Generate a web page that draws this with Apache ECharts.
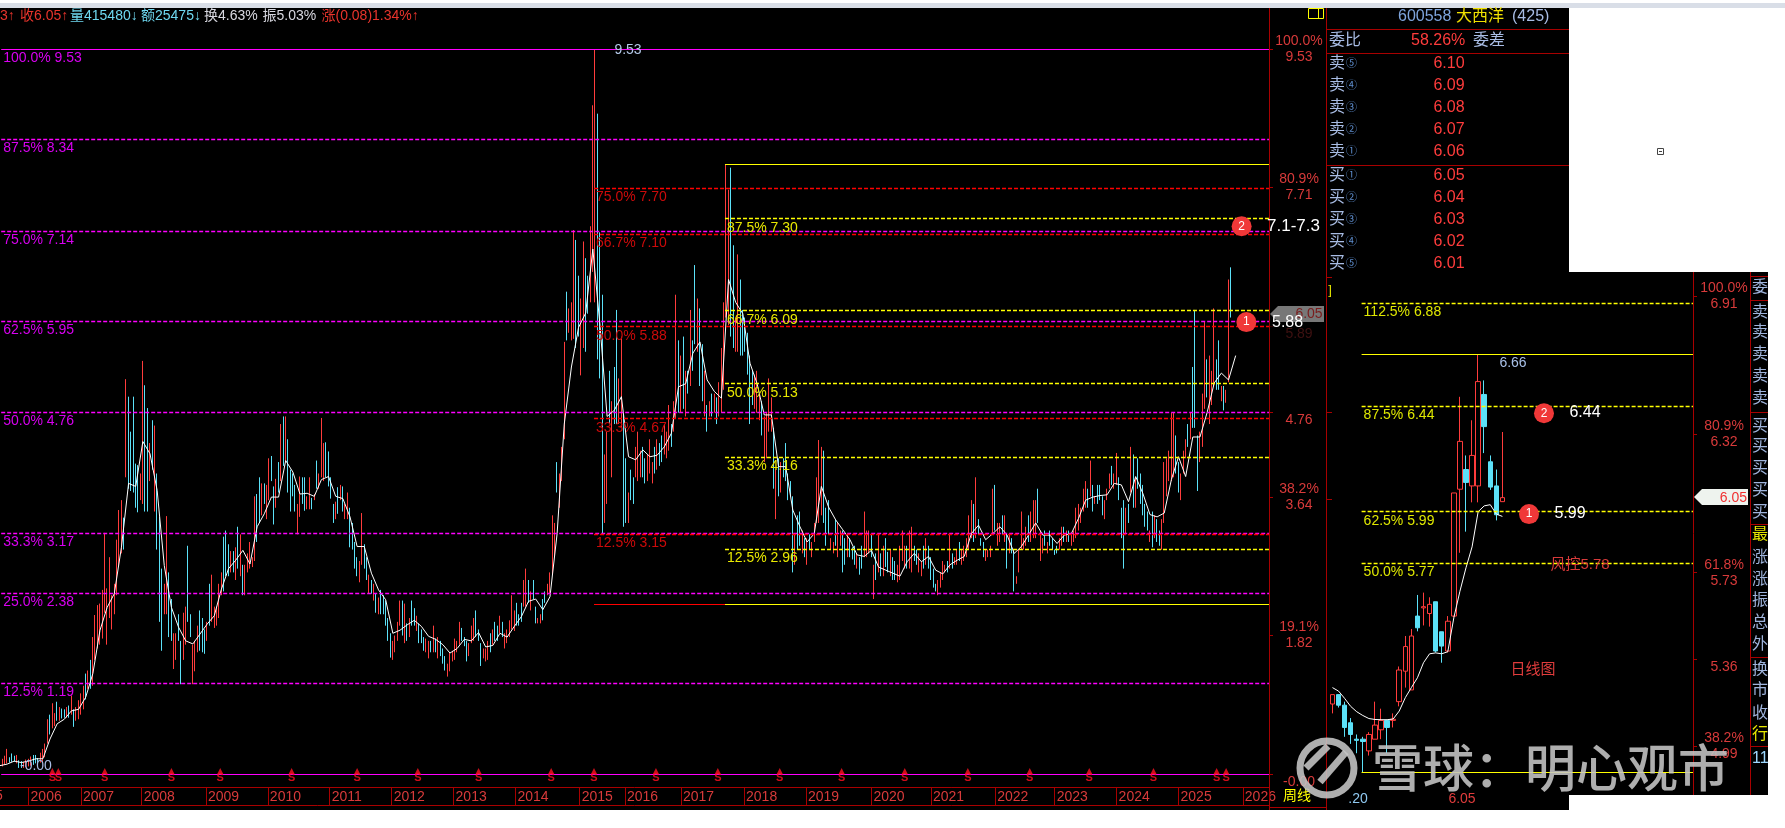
<!DOCTYPE html>
<html><head><meta charset="utf-8">
<script src="https://cdn.jsdelivr.net/npm/echarts@6/dist/echarts.min.js"></script>
<style>html,body{margin:0;padding:0;background:#fff}#c{width:1785px;height:828px}</style></head>
<body><div id="c"></div>
<script>
// ---------- weekly candles: one sampled bar every 2 weeks ----------
const weekHigh=[.12,.20,.24,.33,.22,.27,.24,.25,.18,.17,
.16,.19,.20,.23,.25,.25,.21,.28,.33,.40,
.72,.78,.93,.80,.95,.88,.86,.85,.88,.90,
1.03,.85,.88,.97,1.06,1.16,1.32,1.36,1.50,1.80,
2.09,2.22,2.24,2.42,3.17,2.44,2.85,2.35,2.50,3.08,
3.47,3.60,3.37,5.19,4.96,4.50,4.96,4.08,4.06,3.95,
5.43,5.11,4.81,4.35,4.65,4.58,3.95,3.38,2.70,2.50,
3.39,2.65,2.30,1.85,1.85,2.10,1.75,2.12,2.20,3.00,
2.10,1.70,1.75,1.95,2.15,2.05,1.90,2.00,2.50,2.62,
2.20,2.20,2.50,2.65,3.12,3.20,3.02,2.93,2.93,2.98,
3.25,3.15,2.75,2.75,2.90,3.05,2.85,3.65,3.68,3.90,
3.82,3.82,3.80,4.15,4.18,3.78,3.88,4.10,4.60,4.70,
4.70,4.40,4.00,3.95,3.80,3.55,3.91,3.90,3.90,3.65,
3.90,3.63,3.68,4.12,3.95,4.68,4.35,4.36,4.24,3.90,
3.55,3.58,3.77,3.80,3.78,3.55,3.70,3.50,3.30,3.05,
2.85,2.80,3.43,3.02,2.85,2.62,2.55,2.50,2.38,2.32,
2.42,2.35,2.28,2.05,1.85,1.75,1.82,2.00,2.28,2.28,
2.24,1.98,2.05,2.28,2.18,2.08,1.98,1.90,1.80,1.78,
1.75,1.75,1.95,1.78,1.80,1.75,1.65,1.55,1.45,1.60,
1.62,1.78,1.75,2.00,1.92,1.80,1.75,1.72,1.95,2.05,
2.15,1.90,1.72,1.65,1.65,1.75,1.85,1.90,2.00,1.95,
2.08,2.00,1.85,1.90,2.02,2.35,2.15,2.25,2.10,2.25,
2.55,2.70,2.55,2.40,2.55,2.20,2.05,2.10,2.30,2.40,
2.50,2.65,3.40,3.30,4.10,3.95,4.30,5.68,6.34,6.12,
6.20,7.15,7.02,6.55,6.25,7.00,6.78,6.55,7.20,8.79,
9.53,8.68,7.12,6.30,4.20,4.50,5.30,4.90,5.35,6.10,
5.20,5.75,4.73,4.15,3.70,4.00,3.90,4.30,4.50,4.25,
4.30,4.15,4.20,4.40,4.10,4.30,4.40,4.35,4.45,4.60,
4.50,4.85,4.60,4.90,6.30,5.70,5.50,5.75,5.30,5.30,
6.10,5.70,6.69,6.25,6.12,5.65,5.30,4.85,4.90,5.00,
5.00,4.95,5.15,5.60,6.20,8.01,7.68,7.97,6.95,6.00,
6.83,6.50,6.10,6.00,5.80,5.50,5.30,5.25,5.30,5.00,
4.90,4.70,4.75,5.20,4.95,4.55,4.00,4.15,4.10,4.15,
4.35,3.95,3.85,3.65,3.15,3.40,3.45,3.20,3.10,3.10,
3.15,3.05,3.30,3.90,4.39,4.30,4.25,3.50,3.60,3.10,
3.05,3.35,3.30,3.20,3.20,3.10,3.15,3.10,2.98,3.00,
2.90,2.85,3.00,3.45,3.20,3.20,3.15,2.75,2.90,3.15,
2.90,3.00,3.10,2.92,2.95,2.85,2.80,2.75,3.00,3.20,
3.00,3.00,3.20,3.25,3.00,2.95,2.90,2.80,3.00,3.10,
3.00,2.85,2.70,2.50,2.55,2.65,2.80,2.75,2.80,3.15,
2.90,2.85,2.95,3.05,2.95,3.00,3.10,3.40,3.60,3.55,
3.90,3.35,3.10,3.05,2.95,2.95,3.00,3.75,3.80,3.30,
3.30,3.40,3.40,3.15,3.15,3.10,2.95,2.60,2.95,3.45,
3.10,3.25,3.40,3.45,3.60,3.60,3.75,3.20,3.10,3.20,
3.05,3.20,3.10,2.95,3.00,3.10,3.25,3.25,3.20,3.20,
3.15,3.20,3.50,3.55,3.50,3.75,3.85,3.75,4.12,3.80,
3.65,3.80,3.80,3.65,3.60,3.75,3.95,4.05,3.95,4.22,
3.90,3.50,3.60,3.50,3.55,4.30,4.20,3.90,4.15,3.95,
3.80,3.55,3.45,3.20,3.45,3.40,3.35,3.20,3.35,4.10,
4.15,4.25,4.75,4.75,4.45,4.10,3.95,4.25,4.40,4.60,
4.75,5.35,6.10,4.45,4.50,5.00,5.95,5.45,5.50,5.30,
6.12,5.45,5.70,5.10,5.10,5.05,6.50,6.66];
const weekLow=[0,.10,.12,.14,.15,.16,.16,.14,.08,.08,
.08,.09,.10,.11,.12,.14,.13,.15,.16,.22,
.40,.52,.60,.63,.70,.70,.73,.74,.74,.74,
.78,.62,.70,.72,.78,.85,.98,1.12,1.12,1.16,
1.50,1.65,1.70,1.78,2.12,1.70,2.05,1.90,2.10,2.35,
2.72,2.90,2.95,3.90,3.75,3.72,3.70,3.50,3.44,3.60,
3.55,3.45,3.45,3.85,4.00,3.45,2.95,2.00,1.62,2.10,
2.10,1.80,1.75,1.38,1.50,1.75,1.18,1.50,1.70,2.00,
1.80,1.18,1.35,1.60,1.62,1.60,1.58,1.75,1.95,2.00,
1.92,1.95,2.05,2.35,2.40,2.60,2.60,2.65,2.65,2.55,
2.70,2.60,2.35,2.35,2.65,2.70,2.72,2.80,3.05,3.30,
3.40,3.55,3.35,3.60,3.85,3.28,3.50,3.70,3.85,4.05,
4.10,3.70,3.45,3.65,3.45,3.15,3.38,3.55,3.46,3.48,
3.48,3.48,3.60,3.75,3.75,3.90,3.85,3.90,3.78,3.62,
3.30,3.35,3.42,3.60,3.45,3.35,3.35,2.98,2.95,2.70,
2.60,2.52,2.75,2.70,2.55,2.37,2.37,2.28,2.12,2.10,
2.10,2.10,1.95,1.75,1.53,1.50,1.60,1.75,1.95,1.82,
1.72,1.75,1.80,1.95,1.95,1.88,1.72,1.72,1.62,1.60,
1.52,1.60,1.60,1.60,1.52,1.55,1.45,1.36,1.28,1.35,
1.48,1.50,1.60,1.70,1.75,1.68,1.48,1.55,1.72,1.75,
1.80,1.75,1.42,1.52,1.48,1.50,1.60,1.70,1.75,1.75,
1.85,1.80,1.65,1.72,1.80,1.90,1.88,1.95,1.95,2.00,
2.20,2.20,2.25,2.15,2.30,1.98,1.98,1.98,2.02,2.25,
2.35,2.38,2.62,2.85,3.70,3.50,3.85,4.40,5.70,5.80,
5.70,5.72,5.60,5.75,5.24,5.60,5.55,6.05,6.20,6.60,
6.20,5.45,5.20,3.15,3.30,3.55,4.60,3.90,4.60,4.60,
4.60,4.55,3.25,3.30,3.30,3.60,3.55,3.90,3.85,3.90,
3.90,3.82,3.85,3.95,3.82,3.95,4.00,4.05,4.10,4.20,
4.15,4.25,4.30,4.50,4.68,4.75,4.75,4.80,4.70,5.00,
5.10,5.30,5.65,5.55,5.10,4.90,4.70,4.50,4.70,4.70,
4.75,4.60,4.70,4.75,5.05,6.00,5.90,5.75,5.60,5.55,
5.55,5.50,5.50,5.55,5.25,4.60,4.85,4.80,4.75,4.65,
4.45,4.10,4.15,4.50,4.50,3.75,3.35,3.65,3.70,3.90,
3.85,3.60,3.65,2.65,2.75,2.95,3.00,2.90,2.85,2.75,
2.95,2.85,3.05,3.30,3.30,3.40,3.30,3.00,3.15,2.95,
2.90,3.00,2.85,3.00,2.65,2.75,2.85,2.85,2.82,2.75,
2.70,2.62,2.70,2.85,2.85,2.90,2.85,2.30,2.55,2.65,
2.60,2.60,2.72,2.65,2.60,2.55,2.55,2.52,2.55,2.80,
2.70,2.70,2.70,2.65,2.80,2.75,2.65,2.60,2.70,2.75,
2.70,2.55,2.45,2.40,2.35,2.45,2.55,2.65,2.65,2.70,
2.70,2.75,2.75,2.80,2.75,2.80,2.85,2.95,3.10,3.05,
3.10,3.15,3.00,2.85,2.80,2.85,2.85,3.15,3.20,3.00,
3.05,3.15,3.05,2.70,2.90,2.90,2.40,2.50,2.65,2.95,
2.95,3.00,3.05,3.05,3.10,3.10,3.30,2.80,2.90,3.00,
2.90,3.00,2.95,2.88,2.90,2.95,3.00,3.05,3.05,3.05,
3.00,3.05,3.10,3.20,3.30,3.45,3.50,3.50,3.65,3.45,
3.55,3.55,3.60,3.40,3.35,3.60,3.75,3.80,3.75,3.80,
3.60,3.10,2.70,3.15,3.30,3.70,3.50,3.50,3.75,3.55,
3.40,3.25,3.20,3.05,2.98,3.10,3.05,3.00,2.95,3.30,
3.65,3.85,3.85,3.90,3.95,3.70,3.60,3.95,4.15,4.30,
4.40,4.55,4.55,3.72,4.10,4.30,4.80,4.95,4.60,4.85,
5.10,5.05,5.05,4.90,4.78,4.88,5.15,6.00];
const weekDir="duuudddudd"+"uuuuddduuu"+"uduududdud"+"uduuuududu"+"uuuuuuuuuu"+"uududddddu"+"uddududddu"+"udduudduud"+"duuudddudu"+"uuuudddudu"+
"duduuuuudd"+"uduuddudud"+"udddduuddu"+"ududuuuddd"+"dududuuddd"+"duuddududu"+"ddddduuuud"+"ududdudddu"+"udududdduu"+"uuuuddduuu"+
"ddduuududd"+"uduuuuuddd"+"uududduudd"+"uuuuduuudu"+"uudduudduu"+"uddduududd"+"uuddudduuu"+"dduuududdu"+"uuduududud"+"udduddudud"+
"uduuuuuddu"+"udddddduuu"+"duuuududud"+"dddduddudu"+"duuuuudddu"+"uduudduddd"+"udduuududu"+"duddudduuu"+"uduudduudu"+"dddduuuudu"+
"duuduuuuud"+"uddduuuudu"+"udududduuu"+"uuduuuduud"+"uddddu"+"udud"+"uuuuuuudud"+"uddduuuduu"+"dddudududd"+"dddududduu"+"uuuudduuud"+"uddduuuduu"+"udduduud";
// ---------- weekly moving average, sampled every 6 weeks ----------
const weekMA=[.11,.13,.17,.15,.17,.20,.20,.46,.66,.72,.83,.85,1.01,1.32,1.89,2.19,2.37,2.98,3.82,3.78,
4.37,4.21,3.73,2.74,2.19,1.93,1.75,1.71,1.84,1.97,2.08,2.43,2.70,2.81,2.94,2.76,3.25,3.42,3.64,3.64,
4.12,3.97,3.68,3.69,3.65,3.87,3.91,3.65,3.62,3.38,2.99,2.99,2.64,2.42,2.29,1.85,1.89,1.96,2.02,1.94,
1.81,1.77,1.70,1.59,1.65,1.77,1.75,1.86,1.67,1.69,1.85,1.80,1.94,2.07,2.27,2.30,2.16,2.33,3.16,4.60,
5.35,5.87,6.06,6.90,5.90,4.70,4.78,4.96,4.17,4.13,4.26,4.17,4.19,4.30,4.48,5.09,5.13,5.53,5.68,5.18,
5.03,4.94,6.50,6.20,6.05,5.40,5.13,4.72,4.72,4.04,4.04,3.47,3.25,3.05,3.16,3.78,3.51,3.34,3.21,3.08,
2.88,2.86,2.94,2.72,2.68,2.64,2.60,2.79,2.90,2.79,2.86,2.68,2.63,2.75,2.81,2.86,3.16,3.27,3.08,3.16,
3.25,3.14,2.90,2.99,3.14,3.30,3.14,3.14,3.03,3.14,3.16,3.36,3.60,3.64,3.66,3.67,3.82,3.80,3.58,3.91,
3.69,3.41,3.38,3.43,3.87,4.17,3.91,4.43,4.43,4.75,5.14,5.27,5.18,5.50];
const yearBars=[24,68,119,173,225,277,329,381,433,487,525,572,625,677,732,782,836,886,938,990,1044];
const yearLabels=["2006","2007","2008","2009","2010","2011","2012","2013","2014","2015","2016","2017","2018","2019","2020","2021","2022","2023","2024","2025","2026"];
const dividendBars=[44,49,88,144,185,245,300,351,402,463,499,551,603,655,707,760,813,865,915,969,1022,1030];
const weekAxisVals=[9.53,7.71,5.89,4.76,3.64,1.82,0];
const weekAxisPct=["100.0%","80.9%","61.8%"," ","38.2%","19.1%"," "];
const weekAxisTxt=["9.53","7.71","5.89","4.76","3.64","1.82","-0.00"];
const magentaVals=[8.34,7.14,5.95,4.76,3.17,2.38,1.19];
const magentaPct=["87.5%","75.0%","62.5%","50.0%","33.3%","25.0%","12.5%"];
const magentaTop=9.53, magentaBase=0;
const redVals=[7.70,7.10,5.88,4.67,3.15];
const redPct=["75.0%","66.7%","50.0%","33.3%","12.5%"];
const yellowVals=[7.30,6.09,5.13,4.16,2.96];
const yellowPct=["87.5%","66.7%","50.0%","33.3%","12.5%"];
const yellowTop=8.01, fibBase=2.23;
const redStartBar=499, yellowStartBar=609, lastBar=1066;
// ---------- daily inset ----------
const dayOpen =[5.17,5.21,5.165,5.09,5.02,5.02,4.97,5.02,5.06,5.10,5.10,5.18,5.31,5.23,5.545,5.58,5.556,5.606,5.478,5.396,5.545,6.086,6.17,6.10,6.10,6.49,6.203,6.10,6.033];
const dayClose=[5.21,5.165,5.07,5.04,5.015,5.01,5.04,5.08,5.10,5.07,5.105,5.315,5.415,5.46,5.495,5.585,5.595,5.396,5.417,5.523,6.07,6.29,6.115,6.23,6.545,6.353,6.095,5.977,6.05];
const dayLow  =[5.13,5.155,5.03,5.00,4.96,4.88,4.95,5.02,5.02,4.96,5.07,5.16,5.24,5.23,5.48,5.505,5.50,5.39,5.346,5.39,5.54,5.815,5.905,6.03,6.03,6.24,6.083,5.953,6.033];
const dayHigh =[5.21,5.21,5.18,5.11,5.04,5.03,5.05,5.18,5.15,5.10,5.13,5.33,5.46,5.49,5.635,5.645,5.625,5.606,5.478,5.545,6.07,6.48,6.23,6.38,6.66,6.55,6.23,6.17,6.33];
const dayMA   =[5.24,5.225,5.194,5.16,5.137,5.121,5.108,5.104,5.103,5.103,5.106,5.14,5.197,5.24,5.282,5.346,5.384,5.388,5.384,5.393,5.538,5.651,5.751,5.84,5.99,6.015,6.02,5.98,5.97];
const dayFibVals=[6.88,6.44,5.99,5.77];
const dayFibPct=["112.5%","87.5%","62.5%","50.0%"];
const dayTop=6.66, dayBase=4.88;
const dayAxisVals=[6.91,6.32,5.73,5.36,4.99];
const dayAxisPct=["100.0%","80.9%","61.8%"," ","38.2%"];
const dayAxisTxt=["6.91","6.32","5.73","5.36","4.99"];
// ---------- order book ----------
const askPrices=["6.10","6.09","6.08","6.07","6.06"];
const bidPrices=["6.05","6.04","6.03","6.02","6.01"];
const askMarks=["⑤","④","③","②","①"];
const bidMarks=["①","②","③","④","⑤"];
const sideCol=[["委",288,"#9fb4dc"],["卖",313,"#9fb4dc"],["卖",333,"#9fb4dc"],["卖",355,"#9fb4dc"],["卖",377,"#9fb4dc"],["卖",399,"#9fb4dc"],
["买",427,"#9fb4dc"],["买",447,"#9fb4dc"],["买",469,"#9fb4dc"],["买",491,"#9fb4dc"],["买",513,"#9fb4dc"],["最",535,"#e8e800"],
["涨",558,"#9fb4dc"],["涨",580,"#9fb4dc"],["振",601,"#9fb4dc"],["总",623,"#9fb4dc"],["外",645,"#9fb4dc"],["换",670,"#9fb4dc"],["市",691,"#9fb4dc"],["收",714,"#9fb4dc"],["行",735,"#e8e800"],["11",759,"#9fd8ff"]];

const RED='#ff3c3c', CYAN='#5ce1f8', AX='#a80000', AXT='#d83a3a', FONT='"Liberation Sans",Arial,sans-serif', CJK='"Liberation Sans","Noto Sans CJK SC",sans-serif';
const DAY_X0=4.8, DAY_X1=59.4;

const weekCandles=weekHigh.map((h,i)=>{const l=weekLow[i];return weekDir[i]==='d'?[i*2,h,l,l,h]:[i*2,l,h,l,h];});
const weekMAData=weekMA.map((v,i)=>[i*6,v]);
const dayCandles=dayOpen.map((o,i)=>[i,o,dayClose[i],dayLow[i],dayHigh[i]]);
const dayMAData=dayMA.map((v,i)=>[i,v]);

function seg(x0,x1,y,color,dash,label,labelColor){
  const s=label?{show:true,position:'insideStartBottom',formatter:label,color:labelColor,fontSize:14,fontFamily:FONT,distance:2,padding:[0,0,0,0]}:{show:false};
  return [{coord:[x0,y],lineStyle:{color,type:dash?[4,2]:'solid',width:dash?1.3:1.2},label:s},{coord:[x1,y]}];
}
const weekLines=[
  seg(1,lastBar,magentaTop,'#ff00ff',false,'100.0% 9.53','#d800f0'),
  seg(1,lastBar,magentaBase,'#ff00ff',false),
  ...magentaVals.map((v,i)=>seg(1,lastBar,v,'#ff00ff',true,magentaPct[i]+' '+v.toFixed(2),'#d800f0')),
  ...redVals.map((v,i)=>seg(redStartBar,lastBar,v,'#ff0000',true,redPct[i]+' '+v.toFixed(2),'#cc0a0a')),
  seg(redStartBar,yellowStartBar,fibBase,'#ff0000',false),
  ...yellowVals.map((v,i)=>seg(yellowStartBar,lastBar,v,'#ffff00',true,yellowPct[i]+' '+v.toFixed(2),'#e8e800')),
  seg(yellowStartBar,lastBar,yellowTop,'#ffff00',false),
  seg(yellowStartBar,lastBar,fibBase,'#ffff00',false)
];
const dayLines=[
  ...dayFibVals.map((v,i)=>seg(DAY_X0,DAY_X1,v,'#ffff00',true,dayFibPct[i]+' '+v.toFixed(2),'#dfe800')),
  seg(DAY_X0,DAY_X1,dayTop,'#ffff00',false),
  seg(DAY_X0,DAY_X1,dayBase,'#ffff00',false)
];

function T(x,y,text,color,size,align,extra){
  return Object.assign({type:'text',silent:true,z:50,x,y,style:{text,fill:color,font:(size||14)+'px '+CJK,textAlign:align||'left',textVerticalAlign:'middle'}},extra||{});
}
function R(x,y,w,h,fill,z,op){return {type:'rect',silent:true,z:z==null?-10:z,shape:{x,y,width:w,height:h},style:{fill,opacity:op==null?1:op}};}
function L(x1,y1,x2,y2,c,z){return {type:'line',silent:true,z:z==null?40:z,shape:{x1,y1,x2,y2},style:{stroke:c||AX,lineWidth:1}};}

const g=[];
// page blocks
g.push(R(0,3,1785,5,'#d9dee7',-9));
g.push(R(0,8,1569,802,'#000',-10));
g.push(R(1569,272,199,523,'#000',-10));
g.push({type:'rect',silent:true,z:5,shape:{x:1657.5,y:148.5,width:6,height:6},style:{fill:'#fff',stroke:'#444',lineWidth:1}});
g.push(L(1659,151.5,1662,151.5,'#444',5));
// frame lines
[[1269.5,8,1269.5,810],[1326.5,8,1326.5,810],[1326.5,29.5,1569,29.5],[1326.5,53.5,1569,53.5],[1326.5,165.5,1569,165.5],
 [0,805.5,1269,805.5],[1269,807.5,1327,807.5],[1327,277.5,1332,277.5],[1327,412.5,1332,412.5],[1327,499.5,1332,499.5],
 [1693.5,272,1693.5,795],[1750.5,272,1750.5,795],[1750,276.5,1768,276.5],[1750,300.5,1768,300.5],[1750,412.5,1768,412.5],[1750,524.5,1768,524.5],[1750,657.5,1768,657.5],[1750,746.5,1768,746.5]
].forEach(a=>g.push(L(...a)));
// header row
[[0,"3↑",'#e8342c'],[20,"收6.05↑",'#e8342c'],[70,"量415480↓",'#6fd8f0'],[141,"额25475↓",'#6fd8f0'],[204,"换4.63%",'#d8d8e0'],[262.5,"振5.03%",'#d8d8e0'],[321.5,"涨(0.08)1.34%↑",'#e8342c']]
 .forEach(a=>g.push(T(a[0],16,a[1],a[2],14)));
g.push(T(-5,796,"5",AXT,14));
g.push(T(1283,796,"周线",'#ffff00',14));
g.push({type:'rect',silent:true,z:45,shape:{x:1308.5,y:8.5,width:15,height:10},style:{fill:'none',stroke:'#ffff00',lineWidth:1}});
g.push(L(1318.5,8,1318.5,18,'#ffff00',46));
// order book
g.push(T(1398,17,"600558",'#7ea4dc',16));
g.push(T(1456,17,"大西洋",'#f0e000',16));
g.push(T(1512,17,"(425)",'#a8bce4',16));
g.push(T(1329,41,"委比",'#a8bce4',16));
g.push(T(1411,41,"58.26%",'#ff3c3c',16));
g.push(T(1473,41,"委差",'#a8bce4',16));
askPrices.forEach((p,i)=>{const y=64+22*i;g.push(T(1329,y,"卖",'#a8bce4',16));g.push(T(1346,y,askMarks[i],'#5f8fd0',11));g.push(T(1449,y,p,'#ff3c3c',16,'center'));});
bidPrices.forEach((p,i)=>{const y=176+22*i;g.push(T(1329,y,"买",'#a8bce4',16));g.push(T(1346,y,bidMarks[i],'#5f8fd0',11));g.push(T(1449,y,p,'#ff3c3c',16,'center'));});
// side column clipped at the inset edge
sideCol.forEach(a=>g.push(T(1752,a[1],a[0],a[2],16)));
g.push(R(1768,272,17,523,'#fff',55));
// annotations
g.push(T(628,50,"9.53",'#b4c8e8',14,'center'));
g.push(T(20,766,"-0.00",'#a8bce4',14));
g.push(R(1270,310,55,30,'#000',48,0.72));
g.push({type:'polygon',silent:true,z:49,shape:{points:[[1270,314],[1278,306],[1324,306],[1324,322],[1278,322]]},style:{fill:'#777'}});
g.push(T(1309,314,"6.05",'#7a1c1c',14,'center'));
g.push(T(1272,323,"5.88",'#fff',16));
g.push(T(1267,226,"7.1-7.3",'#fff',17));
g.push(T(1513,363,"6.66",'#a8c0e8',14,'center'));
g.push(T(1585,413,"6.44",'#fff',16,'center'));
g.push(T(1570,514,"5.99",'#fff',16,'center'));
g.push(T(1580,565,"风控5.78",'#d83a3a',15,'center'));
g.push(T(1533,670,"日线图",'#e03c3c',15,'center'));
g.push({type:'polygon',silent:true,z:49,shape:{points:[[1694,497],[1702,489],[1748,489],[1748,505],[1702,505]]},style:{fill:'#eef3ee'}});
g.push(T(1747,498,"6.05",'#f03030',14,'right'));
g.push(T(1358,799,".20",'#8fc8f0',14,'center'));
g.push(T(1462,799,"6.05",'#e03c3c',14,'center'));
g.push(T(1330,290,"]",'#e8e800',13,'center'));
// watermark
const WM='rgba(198,198,198,.88)';
g.push({type:'arc',silent:true,z:60,shape:{cx:1327,cy:768,r:27,startAngle:0,endAngle:Math.PI*2},style:{stroke:WM,fill:'none',lineWidth:7}});
g.push({type:'polyline',silent:true,z:60,shape:{points:[[1346,752],[1320,782]]},style:{stroke:WM,fill:'none',lineWidth:7}});
g.push({type:'polyline',silent:true,z:60,shape:{points:[[1306,768],[1328,746]]},style:{stroke:WM,fill:'none',lineWidth:7}});
g.push({type:'text',silent:true,z:60,x:1372,y:768,style:{text:"雪球：明心观市",fill:WM,font:'500 51px "Noto Sans CJK SC",sans-serif',textVerticalAlign:'middle'}});

const option={
  animation:false,backgroundColor:'#fff',
  grid:[{left:0,top:49,width:1269,height:725},{left:1327,top:296,width:366,height:476}],
  xAxis:[
    {type:'value',gridIndex:0,min:0,max:lastBar,position:'bottom',offset:13,splitLine:{show:false},
     axisLine:{onZero:false,lineStyle:{color:AX}},
     axisTick:{customValues:yearBars,length:18,lineStyle:{color:AX}},
     axisLabel:{customValues:yearBars,formatter:v=>yearLabels[yearBars.indexOf(v)],color:AXT,fontSize:14,fontFamily:FONT,align:'left',margin:3,padding:[0,0,0,2]}},
    {type:'value',gridIndex:1,min:-0.9,max:59.4,show:false,splitLine:{show:false},axisLine:{onZero:false}}
  ],
  yAxis:[
    {type:'value',gridIndex:0,min:0,max:9.53,position:'right',splitLine:{show:false},
     axisLine:{show:false,onZero:false},
     axisTick:{show:true,customValues:weekAxisVals,length:4,lineStyle:{color:AX}},
     axisLabel:{customValues:weekAxisVals,margin:30,align:'center',fontSize:14,lineHeight:16,fontFamily:FONT,
       color:v=>v===5.89?'#5a1818':AXT,
       formatter:v=>{const i=weekAxisVals.indexOf(v);return weekAxisPct[i]+'\n'+weekAxisTxt[i];}}},
    {type:'value',gridIndex:1,min:4.88,max:6.91,position:'right',splitLine:{show:false},
     axisLine:{show:false,onZero:false},
     axisTick:{show:true,customValues:dayAxisVals,length:4,lineStyle:{color:AX}},
     axisLabel:{customValues:dayAxisVals,margin:31,align:'center',fontSize:14,lineHeight:16,fontFamily:FONT,color:AXT,
       formatter:v=>{const i=dayAxisVals.indexOf(v);return dayAxisPct[i]+'\n'+dayAxisTxt[i];}}}
  ],
  series:[
    {type:'candlestick',xAxisIndex:0,yAxisIndex:0,data:weekCandles,barWidth:1,silent:true,
     itemStyle:{color:RED,color0:CYAN,borderColor:RED,borderColor0:CYAN,borderWidth:1}},
    {type:'line',xAxisIndex:0,yAxisIndex:0,data:weekMAData,showSymbol:false,silent:true,z:4,lineStyle:{color:'#fff',width:1}},
    {type:'line',xAxisIndex:0,yAxisIndex:0,data:[],silent:true,z:6,markLine:{silent:true,symbol:'none',animation:false,data:weekLines}},
    {type:'scatter',xAxisIndex:0,yAxisIndex:0,data:dividendBars.map(b=>[b,magentaBase]),silent:true,z:5,symbol:'triangle',symbolSize:6,symbolOffset:[0,-3],
     itemStyle:{color:'#ff1020'},label:{show:true,position:'bottom',distance:-2,formatter:'S',color:'#ff1020',fontSize:11,fontFamily:FONT,fontWeight:'bold'}},
    {type:'scatter',xAxisIndex:0,yAxisIndex:0,data:[[1043,7.2,'2'],[1047,5.94,'1']],silent:true,z:8,symbolSize:20,
     itemStyle:{color:'#f03838',opacity:1},label:{show:true,position:'inside',formatter:p=>p.value[2],color:'#fff',fontSize:12,fontFamily:FONT}},
    {type:'candlestick',xAxisIndex:1,yAxisIndex:1,data:dayCandles,barWidth:5,silent:true,
     itemStyle:{color:'#000',color0:CYAN,borderColor:RED,borderColor0:CYAN,borderWidth:1}},
    {type:'line',xAxisIndex:1,yAxisIndex:1,data:dayMAData,showSymbol:false,silent:true,z:4,smooth:false,lineStyle:{color:'#fff',width:1}},
    {type:'line',xAxisIndex:1,yAxisIndex:1,data:[],silent:true,z:3,markLine:{silent:true,symbol:'none',animation:false,data:dayLines}},
    {type:'scatter',xAxisIndex:1,yAxisIndex:1,data:[[34.85,6.41,'2'],[32.38,5.98,'1']],silent:true,z:8,symbolSize:20,
     itemStyle:{color:'#f03838',opacity:1},label:{show:true,position:'inside',formatter:p=>p.value[2],color:'#fff',fontSize:12,fontFamily:FONT}}
  ],
  graphic:{elements:g}
};
echarts.init(document.getElementById('c'),null,{renderer:'canvas'}).setOption(option);
</script>
</body></html>
